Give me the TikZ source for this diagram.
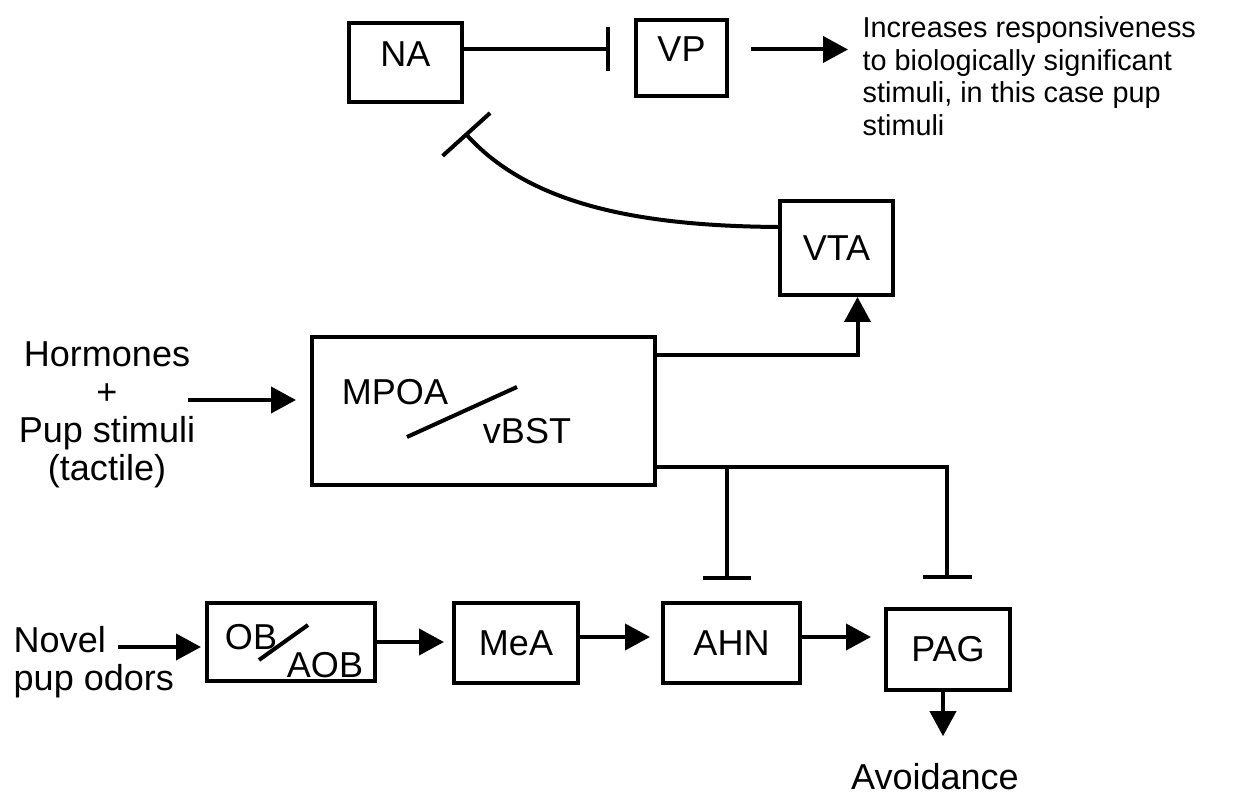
\documentclass[tikz,border=0pt]{standalone}
\usepackage{fontspec}
\setmainfont{Liberation Sans}
\usetikzlibrary{arrows.meta,calc}
\newcommand{\labelfont}{\fontsize{10.25}{10.8}\selectfont}
\newcommand{\notefont}{\fontsize{8.2}{9.25}\selectfont}
\tikzset{
  box-node/.style={
    draw=black,
    line width=0.4mm,
    inner sep=0pt,
    font=\labelfont
  },
  plain-text/.style={inner sep=0pt, font=\labelfont},
  note-text/.style={inner sep=0pt, font=\notefont, align=left},
  arrow-line/.style={line width=0.4mm, -{Triangle[length=2.5mm,width=2.6mm]}},
  inhibit-line/.style={line width=0.4mm, -{Bar[width=#1]}},
  inhibit-line/.default=4.6mm,
  slash-line/.style={line width=0.4mm}
}

\begin{document}
\begin{tikzpicture}[x=0.1mm, y=-0.1mm]
  \useasboundingbox (0,0) rectangle (1242,800);

  % --- Top row ---
  \node[box-node, minimum width=11.3mm, minimum height=7.9mm,
        text height=2.6mm, text depth=1.8mm] (na) at (405.5,62.5) {NA};
  \node[box-node, minimum width=9.1mm, minimum height=7.6mm,
        text height=2.6mm, text depth=1.8mm] (vp) at (681.5,58) {VP};
  \node[note-text, anchor=north west] (effect) at (862,16)
    {Increases responsiveness\\to biologically significant\\stimuli, in this case pup\\stimuli};
  \node[box-node, minimum width=11.3mm, minimum height=9.4mm] (vta) at (836.5,248) {VTA};

  % --- Middle: MPOA / vBST ---
  \node[box-node, minimum width=34.3mm, minimum height=14.8mm] (mpoa) at (483.5,411) {};
  \node[plain-text] (mpoa-top) at (395,392) {MPOA};
  \node[plain-text] (mpoa-bot) at (527,431) {vBST};
  \draw[slash-line] (407,437) -- (517,387);
  \node[plain-text, align=center] (hormones) at (107,415)
    {Hormones\\+\\Pup stimuli\\(tactile)};

  % --- Bottom row ---
  \node[plain-text, align=left, anchor=west] (novel) at (13,662) {Novel\\pup odors};
  \node[box-node, minimum width=16.8mm, minimum height=7.8mm] (ob) at (291,642) {};
  \node[plain-text] (ob-top) at (251,637) {OB};
  \node[plain-text] (ob-bot) at (325,665) {AOB};
  \draw[slash-line] (259,660) -- (308,625);
  \node[box-node, minimum width=12.4mm, minimum height=8mm] (mea) at (516,643) {MeA};
  \node[box-node, minimum width=13.7mm, minimum height=8mm] (ahn) at (731.5,643) {AHN};
  \node[box-node, minimum width=12.4mm, minimum height=8.1mm] (pag) at (948,649.5) {PAG};
  \node[plain-text, anchor=base] (avoid) at (935,790) {Avoidance};

  % --- Connectors, top ---
  \coordinate (na-out) at ($(na.east)+(0,-13)$);
  \draw[inhibit-line=4.4mm, shorten >=2.4mm] (na-out) -- (na-out -| vp.west);
  \draw[arrow-line, shorten <=2.2mm, shorten >=1.4mm] (vp.east |- na-out) -- (effect.west |- na-out);
  \coordinate (na-bar) at (465,133);
  \draw[inhibit-line=6.4mm] ($(vta.west)+(0,-21)$) .. controls (640,226) and (530,205) .. (na-bar);

  % --- Connectors, MPOA ---
  \draw[arrow-line] ($(mpoa.north east)+(0,20)$) -| ($(vta.south)+(21,0)$);
  \coordinate (mpoa-out) at ($(mpoa.south east)+(0,-20)$);
  \draw[inhibit-line=4.8mm] (mpoa-out) -| ($(ahn.north)+(-5,-21)$);
  \draw[inhibit-line=4.9mm] (mpoa-out) -| ($(pag.north)+(-1,-28)$);
  \coordinate (hormones-out) at (188,400);
  \draw[arrow-line, shorten >=1.4mm] (hormones-out) -- (hormones-out -| mpoa.west);

  % --- Connectors, bottom ---
  \coordinate (novel-out) at (118,647);
  \draw[arrow-line, shorten >=0.4mm] (novel-out) -- (novel-out -| ob.west);
  \draw[arrow-line, shorten >=0.8mm] (ob.east) -- (ob.east -| mea.west);
  \coordinate (mea-out) at ($(mea.east)+(0,-6)$);
  \draw[arrow-line, shorten >=1.1mm] (mea-out) -- (mea-out -| ahn.west);
  \coordinate (ahn-out) at ($(ahn.east)+(0,-6)$);
  \draw[arrow-line, shorten >=1.3mm] (ahn-out) -- (ahn-out -| pag.west);
  \coordinate (pag-out) at ($(pag.south)+(-5,0)$);
  \draw[arrow-line, shorten >=2.7mm] (pag-out) -- (pag-out |- avoid.north);
\end{tikzpicture}
\end{document}
